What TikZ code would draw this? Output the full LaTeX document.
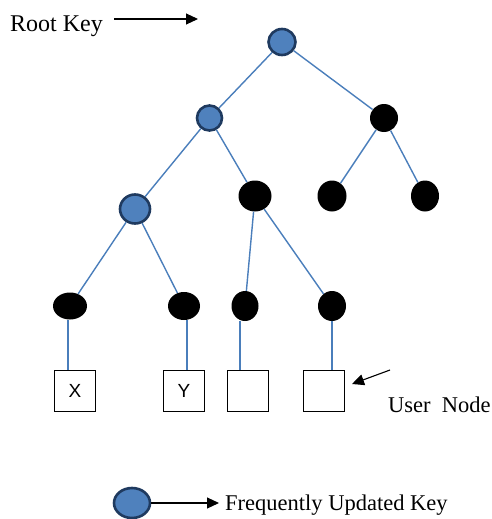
\documentclass[tikz,border=0pt]{standalone}
\usepackage{fontspec}
\setmainfont{Liberation Serif}
\newfontfamily\boxfont{Liberation Sans}
\usetikzlibrary{shapes.geometric,arrows.meta}
\definecolor{edgeblue}{HTML}{4A7EBB}
\definecolor{keyfill}{HTML}{4F81BD}
\definecolor{keyborder}{HTML}{1F3A5F}
\tikzset{
  bluekey/.style={ellipse,fill=keyfill,draw=keyborder,line width=2.6pt,inner sep=0pt},
  blackkey/.style={ellipse,fill=black,inner sep=0pt},
  usernode/.style={rectangle,draw=black,line width=0.8pt,minimum width=41pt,minimum height=41pt,inner sep=0pt,font=\boxfont\fontsize{19}{22}\selectfont},
  treeedge/.style={draw=edgeblue,line width=1.4pt},
  pointer/.style={draw=black,line width=1.1pt,-{Triangle[length=12pt,width=11pt]}},
  label/.style={inner sep=0pt,font=\fontsize{22.5}{26}\selectfont,anchor=base west}
}
\begin{document}
\begin{tikzpicture}[x=1pt,y=-1pt]
\useasboundingbox (0,0) rectangle (492,519);
% tree keys
\node[bluekey,minimum width=27pt,minimum height=26pt] (root) at (282,42) {};
\node[bluekey,minimum width=25pt,minimum height=25pt] (l2a) at (209.5,118) {};
\node[blackkey,minimum width=28pt,minimum height=28pt] (l2b) at (384,118) {};
\node[bluekey,minimum width=30pt,minimum height=29pt] (l3a) at (135,209) {};
\node[blackkey,minimum width=33pt,minimum height=31pt] (l3b) at (255,196) {};
\node[blackkey,minimum width=29pt,minimum height=31pt] (l3c) at (332,196) {};
\node[blackkey,minimum width=28pt,minimum height=31pt] (l3d) at (425,196) {};
\node[blackkey,minimum width=34pt,minimum height=27pt] (l4a) at (70,306) {};
\node[blackkey,minimum width=32pt,minimum height=28pt] (l4b) at (184,306) {};
\node[blackkey,minimum width=27pt,minimum height=30pt] (l4c) at (245,306) {};
\node[blackkey,minimum width=28pt,minimum height=30pt] (l4d) at (332,306) {};
% user nodes
\node[usernode] (ux) at (75,391) {X};
\node[usernode] (uy) at (184,391) {Y};
\node[usernode] (u3) at (248,391) {};
\node[usernode] (u4) at (324,391) {};
% edges
\path[treeedge] (root) -- (l2a);
\path[treeedge] (root) -- (l2b);
\path[treeedge] (l2a) -- (l3a);
\path[treeedge] (l2a) -- (l3b);
\path[treeedge] (l2b) -- (l3c);
\path[treeedge] (l2b) -- (l3d);
\path[treeedge] (l3a) -- (l4a);
\path[treeedge] (l3a) -- (l4b);
\path[treeedge] (l3b) -- (l4c);
\path[treeedge] (l3b) -- (l4d);
\path[treeedge] (68,319.5) -- (ux.north -| 68,0);
\path[treeedge] (uy.north -| 187,0) -- (187,320);
\path[treeedge] (l4c.south -| 240,0) -- (u3.north -| 240,0);
\path[treeedge] (l4d.south) -- (u4.north -| l4d.south);
% labels
\node[label,font=\fontsize{24}{28}\selectfont] (rootlbl) at (10,32) {Root Key};
\coordinate (rootA) at (114,19);
\coordinate (rootB) at (198,19);
\draw[pointer] (rootA) -- (rootB);
\node[label] (userlbl) at (388,412) {User\ \ Node};
\coordinate (userA) at (390,370);
\coordinate (userB) at (352,384);
\draw[pointer] (userA) -- (userB);
% legend
\node[bluekey,minimum width=36pt,minimum height=30pt] (legkey) at (132,503) {};
\node[label] (leglbl) at (225,510.5) {Frequently Updated Key};
\coordinate (legB) at (219,503);
\draw[pointer] (legkey.east) -- (legB);
\end{tikzpicture}
\end{document}
